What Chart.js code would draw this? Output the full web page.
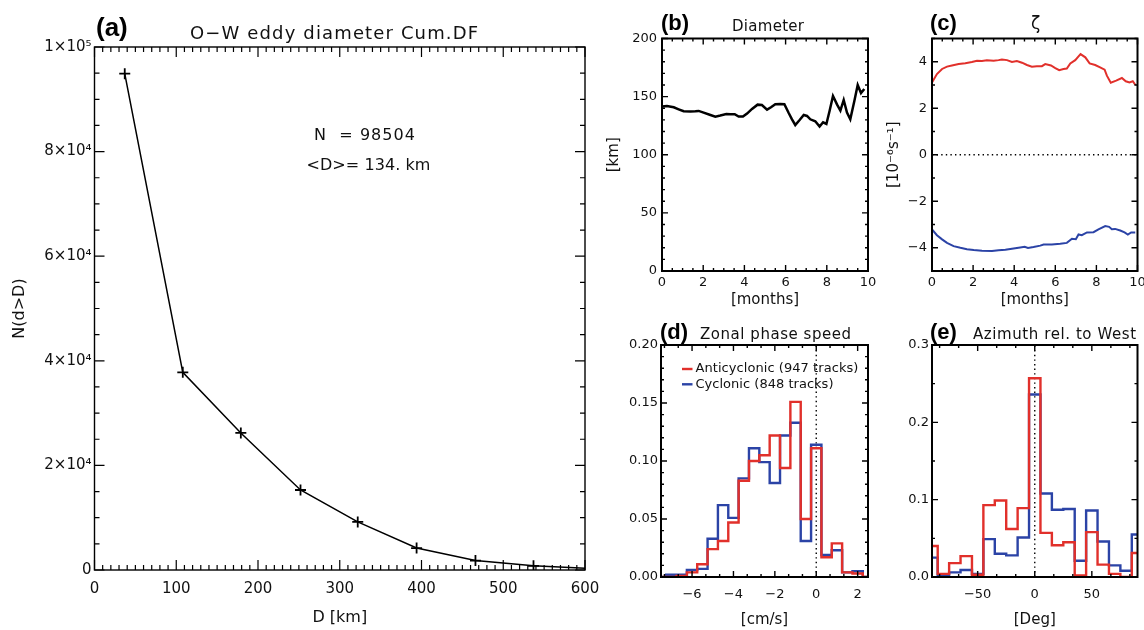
<!DOCTYPE html>
<html>
<head>
<meta charset="utf-8">
<script src="https://cdn.jsdelivr.net/npm/chart.js@4.4.1/dist/chart.umd.min.js"></script>
<style>
html,body{margin:0;padding:0;background:#fff;}
#wrap{position:relative;width:1144px;height:630px;overflow:hidden;background:#fff;}
#wrap canvas{position:absolute;left:0;top:0;}
</style>
</head>
<body>
<div id="wrap">
<canvas id="pa" width="1144" height="630"></canvas>
<canvas id="pb" width="1144" height="630"></canvas>
<canvas id="pc" width="1144" height="630"></canvas>
<canvas id="pd" width="1144" height="630"></canvas>
<canvas id="pe" width="1144" height="630"></canvas>
</div>
<script>
// ---------------- DATA ----------------
// (a) cumulative distribution of eddy diameter
const cdfD = [37, 108, 179, 252, 322, 394, 466, 537, 609];
const cdfN = [94900, 37800, 26200, 15300, 9200, 4200, 1800, 800, 250];
const xTicksA = [0, 100, 200, 300, 400, 500, 600];
const xLabelsA = ['0', '100', '200', '300', '400', '500', '600'];
const yTicksA = [0, 20000, 40000, 60000, 80000, 100000];
const yLabelsA = ['0', '2×10⁴', '4×10⁴', '6×10⁴', '8×10⁴', '1×10⁵'];

// (b) diameter vs months
const monthsB = [0,0.24,0.57,0.81,1.05,1.38,1.62,1.78,2.02,2.35,2.59,2.83,3.12,3.32,3.53,3.72,3.93,4.13,4.37,4.64,4.85,5.10,5.29,5.50,5.74,5.94,6.15,6.31,6.47,6.68,6.88,7.04,7.20,7.44,7.65,7.82,7.98,8.14,8.30,8.50,8.66,8.82,8.98,9.14,9.34,9.50,9.66,9.82];
const diamB = [141.4,142.0,140.8,139.1,137.4,137.1,137.4,137.7,136.2,134.2,132.8,133.7,135.1,134.8,134.8,132.8,132.8,135.4,139.4,143.1,142.8,138.8,140.8,143.4,143.7,143.4,135.9,130.5,125.6,129.9,134.2,133.4,130.5,128.8,124.2,127.9,126.5,138.0,150.5,143.1,138.0,147.1,136.2,130.5,146.5,160.0,153.1,156.6];
const monthTicks = [0, 2, 4, 6, 8, 10];
const monthLabels = ['0', '2', '4', '6', '8', '10'];
const yTicksB = [0, 50, 100, 150, 200];
const yLabelsB = ['0', '50', '100', '150', '200'];

// (c) vorticity zeta vs months
const monthsAnti = [0,0.24,0.49,0.73,0.97,1.30,1.62,1.94,2.19,2.43,2.67,3.0,3.24,3.40,3.65,3.89,4.13,4.38,4.62,4.86,5.10,5.35,5.51,5.79,6.0,6.19,6.40,6.56,6.73,6.97,7.13,7.23,7.46,7.67,7.94,8.18,8.40,8.51,8.70,8.96,9.24,9.43,9.61,9.77,9.90];
const zetaAnti = [3.11,3.47,3.69,3.79,3.84,3.90,3.94,3.99,4.04,4.03,4.06,4.04,4.07,4.10,4.07,3.99,4.03,3.96,3.86,3.79,3.81,3.81,3.90,3.84,3.73,3.64,3.69,3.71,3.93,4.07,4.23,4.33,4.19,3.93,3.86,3.76,3.66,3.40,3.10,3.19,3.30,3.16,3.11,3.16,3.00];
const monthsCyc = [0,0.24,0.49,0.73,1.05,1.38,1.70,2.03,2.43,2.92,3.24,3.57,3.89,4.29,4.51,4.67,4.94,5.27,5.43,5.83,6.24,6.56,6.81,7.0,7.13,7.29,7.54,7.86,8.10,8.43,8.62,8.75,8.91,9.16,9.37,9.53,9.69,9.89];
const zetaCyc = [-3.21,-3.46,-3.64,-3.79,-3.93,-4.0,-4.06,-4.10,-4.13,-4.14,-4.11,-4.09,-4.04,-3.99,-3.96,-4.01,-3.97,-3.91,-3.86,-3.86,-3.83,-3.79,-3.61,-3.63,-3.43,-3.46,-3.34,-3.33,-3.21,-3.07,-3.10,-3.20,-3.19,-3.26,-3.34,-3.43,-3.34,-3.34];
const yTicksC = [-4, -2, 0, 2, 4];
const yLabelsC = ['−4', '−2', '0', '2', '4'];

// (d) zonal phase speed histogram (bin centres, cm/s)
const binsD = [-7.5,-7.0,-6.5,-6.0,-5.5,-5.0,-4.5,-4.0,-3.5,-3.0,-2.5,-2.0,-1.5,-1.0,-0.5,0.0,0.5,1.0,1.5,2.0,2.5];
const anticycD = [0.000,0.000,0.001,0.004,0.011,0.024,0.031,0.047,0.083,0.100,0.105,0.122,0.094,0.151,0.050,0.111,0.017,0.029,0.004,0.003,0.000];
const cycD = [0.000,0.002,0.002,0.006,0.007,0.033,0.062,0.051,0.085,0.111,0.099,0.081,0.122,0.133,0.031,0.114,0.019,0.023,0.004,0.005,0.000];
const xTicksD = [-6, -4, -2, 0, 2];
const xLabelsD = ['−6', '−4', '−2', '0', '2'];
const yTicksD = [0, 0.05, 0.10, 0.15, 0.20];
const yLabelsD = ['0.00', '0.05', '0.10', '0.15', '0.20'];

// (e) azimuth histogram (bin centres, deg)
const binsE = [-90,-80,-70,-60,-50,-40,-30,-20,-10,0,10,20,30,40,50,60,70,80,90];
const anticycE = [0.040,0.004,0.018,0.027,0.003,0.093,0.099,0.062,0.089,0.257,0.057,0.041,0.045,0.002,0.058,0.016,0.004,0.000,0.031];
const cycE = [0.025,0.002,0.006,0.009,0.004,0.049,0.030,0.028,0.051,0.236,0.108,0.087,0.088,0.021,0.086,0.046,0.015,0.008,0.055];
const xTicksE = [-50, 0, 50];
const xLabelsE = ['−50', '0', '50'];
const yTicksE = [0, 0.1, 0.2, 0.3];
const yLabelsE = ['0.0', '0.1', '0.2', '0.3'];

const legendLabels = ['Anticyclonic (947 tracks)', 'Cyclonic (848 tracks)'];

// ---------------- STYLE ----------------
const RED = '#e1302b';
const BLUE = '#2b43a6';
const FONT = "'DejaVu Sans', 'Liberation Sans', sans-serif";
const BOLD = "'Liberation Sans', Arial, sans-serif";
const W = 1144, H = 630;

Chart.defaults.font.family = FONT;
Chart.defaults.color = '#111';
Chart.defaults.animation = false;

function pts(xs, ys) { return xs.map((v, i) => ({x: v, y: ys[i]})); }

function drawText(ctx, t) {
  ctx.save();
  ctx.font = t.font;
  ctx.fillStyle = t.color || '#111';
  ctx.textBaseline = t.baseline || 'alphabetic';
  ctx.textAlign = 'left';
  const hasLS = ('letterSpacing' in ctx);
  if (hasLS) ctx.letterSpacing = '0px';
  const w0 = ctx.measureText(t.text).width;
  let w = w0;
  if (t.width && hasLS && t.text.length > 1) {
    const sp = (t.width - w0) / (t.text.length - 1);
    ctx.letterSpacing = sp.toFixed(2) + 'px';
    w = t.width;
  }
  let x = t.x;
  if (t.align === 'center') x = t.x - w / 2;
  ctx.fillText(t.text, x, t.y);
  ctx.restore();
}

function makeIdlPlugin(spec) {
  function marks(scale, majors, minorStep, cb) {
    const min = scale.min, max = scale.max;
    const base = majors[0];
    const k0 = Math.ceil((min - base) / minorStep - 1e-6);
    for (let k = k0; ; k++) {
      const v = base + k * minorStep;
      if (v > max + minorStep * 1e-6) break;
      const major = majors.some(m => Math.abs(m - v) < minorStep * 1e-3);
      cb(v, major);
    }
  }
  return {
    id: 'idl',
    afterDatasetsDraw(chart) {
      const {ctx, chartArea: a, scales: {x, y}} = chart;
      ctx.save();
      ctx.strokeStyle = '#000';
      ctx.lineWidth = spec.tickWidth;
      ctx.beginPath();
      marks(x, spec.xMajor, spec.xMinor, (v, major) => {
        const p = x.getPixelForValue(v);
        const len = major ? spec.majorLen : spec.minorLen;
        ctx.moveTo(p, a.bottom); ctx.lineTo(p, a.bottom - len);
        ctx.moveTo(p, a.top); ctx.lineTo(p, a.top + len);
      });
      marks(y, spec.yMajor, spec.yMinor, (v, major) => {
        const p = y.getPixelForValue(v);
        const len = major ? spec.majorLen : spec.minorLen;
        ctx.moveTo(a.left, p); ctx.lineTo(a.left + len, p);
        ctx.moveTo(a.right, p); ctx.lineTo(a.right - len, p);
      });
      ctx.stroke();
      ctx.lineWidth = spec.frameWidth;
      ctx.strokeRect(a.left, a.top, a.right - a.left, a.bottom - a.top);
      ctx.restore();
    },
    afterDraw(chart) {
      const ctx = chart.ctx;
      (spec.texts || []).forEach(t => drawText(ctx, t));
      if (spec.legend) {
        const L = spec.legend;
        chart.data.datasets.forEach((ds, i) => {
          if (!ds.label) return;
          const yy = L.y0 + i * L.dy;
          ctx.save();
          ctx.strokeStyle = ds.borderColor;
          ctx.lineWidth = ds.borderWidth;
          ctx.beginPath();
          ctx.moveTo(L.x0, yy); ctx.lineTo(L.x1, yy);
          ctx.stroke();
          ctx.restore();
          drawText(ctx, {text: ds.label, x: L.tx, y: yy, font: L.font, baseline: 'middle', width: L.widths[i]});
        });
      }
    }
  };
}

function makePanel(id, area, c) {
  const padding = {left: area.l - c.yW, top: area.t, right: W - area.r, bottom: H - area.b - c.xH};
  return new Chart(document.getElementById(id), {
    type: 'line',
    data: {datasets: c.datasets},
    options: {
      responsive: false, maintainAspectRatio: false, animation: false, events: [],
      layout: {padding},
      plugins: {legend: {display: false}, tooltip: {enabled: false}, title: {display: false}},
      elements: {line: {tension: 0, fill: false}, point: {radius: 0}},
      scales: {
        x: {
          type: 'linear', min: c.xMin, max: c.xMax,
          grid: {display: false, drawTicks: false}, border: {display: false},
          afterBuildTicks: s => { s.ticks = c.xTicks.map(v => ({value: v})); },
          afterFit: s => { s.height = c.xH; s.paddingLeft = 0; s.paddingRight = 0; },
          ticks: {autoSkip: false, maxRotation: 0, minRotation: 0, padding: c.xPad, color: '#111',
                  font: {size: c.tickSize}, callback: (v, i) => c.xLabels[i]},
          title: {display: !!c.xTitle, text: c.xTitle, padding: 0, color: '#111', font: {size: c.titleSize}}
        },
        y: {
          type: 'linear', min: c.yMin, max: c.yMax,
          grid: {display: false, drawTicks: false}, border: {display: false},
          afterBuildTicks: s => { s.ticks = c.yTicks.map(v => ({value: v})); },
          afterFit: s => { s.width = c.yW; s.paddingTop = 0; s.paddingBottom = 0; },
          ticks: {autoSkip: false, padding: c.yPad, color: '#111',
                  font: {size: c.tickSize}, callback: (v, i) => c.yLabels[i]},
          title: {display: !!c.yTitle, text: c.yTitle, padding: 0, color: '#111', font: {size: c.titleSize}}
        }
      }
    },
    plugins: [makeIdlPlugin(c.idl)]
  });
}

const dotted = {borderColor: '#000', borderWidth: 1.4, borderDash: [1.4, 3.2], pointRadius: 0};

// ---------------- (a) ----------------
makePanel('pa', {l: 94.5, t: 47, r: 585, b: 570}, {
  xMin: 0, xMax: 600, yMin: 0, yMax: 100000,
  xTicks: xTicksA, xLabels: xLabelsA, yTicks: yTicksA, yLabels: yLabelsA,
  xTitle: 'D [km]', yTitle: 'N(d>D)', tickSize: 15, titleSize: 16,
  xPad: 10, yPad: 3, xH: 57.6, yW: 84,
  datasets: [{
    data: pts(cdfD, cdfN), borderColor: '#000', borderWidth: 1.5,
    pointStyle: 'cross', pointRadius: 5.5, pointBorderWidth: 1.8, pointBorderColor: '#000'
  }],
  idl: {
    xMajor: xTicksA, xMinor: 10, yMajor: yTicksA, yMinor: 5000,
    majorLen: 10, minorLen: 5, tickWidth: 1.2, frameWidth: 1.4,
    texts: [
      {text: '(a)', x: 96, y: 36, font: 'bold 26px ' + BOLD, color: '#000'},
      {text: 'O−W eddy diameter Cum.DF', x: 190, y: 39, font: '18px ' + FONT, width: 288},
      {text: 'N  = 98504', x: 314, y: 140, font: '16px ' + FONT, width: 101},
      {text: '<D>= 134. km', x: 306.5, y: 170, font: '16px ' + FONT, width: 124}
    ]
  }
});

// ---------------- (b) ----------------
makePanel('pb', {l: 662, t: 38.5, r: 868, b: 271}, {
  xMin: 0, xMax: 10, yMin: 0, yMax: 200,
  xTicks: monthTicks, xLabels: monthLabels, yTicks: yTicksB, yLabels: yLabelsB,
  xTitle: '[months]', yTitle: '[km]', tickSize: 13, titleSize: 15,
  xPad: 4.2, yPad: 5, xH: 38, yW: 57,
  datasets: [{data: pts(monthsB, diamB), borderColor: '#000', borderWidth: 2.5, pointRadius: 0}],
  idl: {
    xMajor: monthTicks, xMinor: 0.5, yMajor: yTicksB, yMinor: 10,
    majorLen: 6, minorLen: 3, tickWidth: 1.4, frameWidth: 2,
    texts: [
      {text: '(b)', x: 661, y: 30, font: 'bold 22px ' + BOLD, color: '#000'},
      {text: 'Diameter', x: 732, y: 31, font: '15px ' + FONT, width: 72}
    ]
  }
});

// ---------------- (c) ----------------
makePanel('pc', {l: 932, t: 38.5, r: 1137.5, b: 271}, {
  xMin: 0, xMax: 10, yMin: -5, yMax: 5,
  xTicks: monthTicks, xLabels: monthLabels, yTicks: yTicksC, yLabels: yLabelsC,
  xTitle: '[months]', yTitle: '[10⁻⁶s⁻¹]', tickSize: 13, titleSize: 15,
  xPad: 4.2, yPad: 5, xH: 38, yW: 46.5,
  datasets: [
    Object.assign({data: [{x: 0, y: 0}, {x: 10, y: 0}]}, dotted),
    {data: pts(monthsAnti, zetaAnti), borderColor: RED, borderWidth: 2, pointRadius: 0},
    {data: pts(monthsCyc, zetaCyc), borderColor: BLUE, borderWidth: 2, pointRadius: 0}
  ],
  idl: {
    xMajor: monthTicks, xMinor: 0.5, yMajor: yTicksC, yMinor: 1,
    majorLen: 6, minorLen: 3, tickWidth: 1.4, frameWidth: 2,
    texts: [
      {text: '(c)', x: 930, y: 30, font: 'bold 22px ' + BOLD, color: '#000'},
      {text: 'ζ', x: 1035.5, y: 29, font: '17px ' + FONT, align: 'center'}
    ]
  }
});

// ---------------- (d) ----------------
makePanel('pd', {l: 661, t: 345, r: 868, b: 577}, {
  xMin: -7.5, xMax: 2.5, yMin: 0, yMax: 0.2,
  xTicks: xTicksD, xLabels: xLabelsD, yTicks: yTicksD, yLabels: yLabelsD,
  xTitle: '[cm/s]', yTitle: '', tickSize: 13, titleSize: 15,
  xPad: 10.2, yPad: 3, xH: 52, yW: 45,
  datasets: [
    {label: legendLabels[0], data: pts(binsD, anticycD), borderColor: RED, borderWidth: 2.4, stepped: 'middle', pointRadius: 0},
    {label: legendLabels[1], data: pts(binsD, cycD), borderColor: BLUE, borderWidth: 2.4, stepped: 'middle', pointRadius: 0},
    Object.assign({data: [{x: 0, y: 0}, {x: 0, y: 0.2}]}, dotted)
  ],
  idl: {
    xMajor: xTicksD, xMinor: 2 / 3, yMajor: yTicksD, yMinor: 0.01,
    majorLen: 6, minorLen: 3, tickWidth: 1.4, frameWidth: 2,
    texts: [
      {text: '(d)', x: 660, y: 339, font: 'bold 22px ' + BOLD, color: '#000'},
      {text: 'Zonal phase speed', x: 700, y: 339, font: '15px ' + FONT, width: 151}
    ],
    legend: {x0: 682, x1: 692.5, tx: 695.5, y0: 369, dy: 15.3, font: '13px ' + FONT, widths: [163, 138]}
  }
});

// ---------------- (e) ----------------
makePanel('pe', {l: 932, t: 345, r: 1137.5, b: 577}, {
  xMin: -90, xMax: 90, yMin: 0, yMax: 0.3,
  xTicks: xTicksE, xLabels: xLabelsE, yTicks: yTicksE, yLabels: yLabelsE,
  xTitle: '[Deg]', yTitle: '', tickSize: 13, titleSize: 15,
  xPad: 10.2, yPad: 3, xH: 52, yW: 45,
  datasets: [
    {data: pts(binsE, anticycE), borderColor: RED, borderWidth: 2.4, stepped: 'middle', pointRadius: 0},
    {data: pts(binsE, cycE), borderColor: BLUE, borderWidth: 2.4, stepped: 'middle', pointRadius: 0},
    Object.assign({data: [{x: 0, y: 0}, {x: 0, y: 0.3}]}, dotted)
  ],
  idl: {
    xMajor: xTicksE, xMinor: 50 / 3, yMajor: yTicksE, yMinor: 0.05,
    majorLen: 6, minorLen: 3, tickWidth: 1.4, frameWidth: 2,
    texts: [
      {text: '(e)', x: 930, y: 339, font: 'bold 22px ' + BOLD, color: '#000'},
      {text: 'Azimuth rel. to West', x: 973, y: 339, font: '15px ' + FONT, width: 163}
    ]
  }
});
</script>
</body>
</html>
